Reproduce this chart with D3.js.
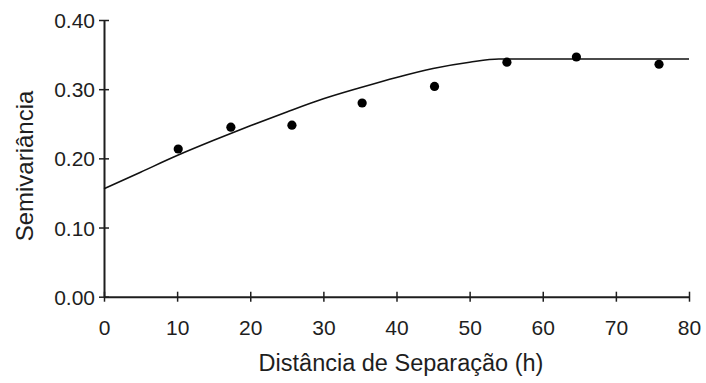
<!DOCTYPE html>
<html>
<head>
<meta charset="utf-8">
<script src="https://cdn.jsdelivr.net/npm/d3@7"></script>
<style>
  html, body { margin: 0; padding: 0; background: #fff; }
  svg { display: block; }
  text { font-family: "Liberation Sans", Arial, sans-serif; fill: #1e1e1e; }
</style>
</head>
<body>
<svg id="chart" width="706" height="383"></svg>
<script>
// Experimental semivariance by lag distance
const lagDistance = [10.15, 17.35, 25.7, 35.3, 45.2, 55.1, 64.6, 75.9];
const semivariance = [0.2135, 0.245, 0.248, 0.280, 0.304, 0.339, 0.3465, 0.336];

// Fitted model curve (distance, semivariance)
const modelDistance = [0, 5, 10, 15, 20, 25, 30, 35, 40, 45, 50, 54, 60, 70, 80];
const modelValue = [0.156, 0.180, 0.204, 0.226, 0.247, 0.267, 0.286, 0.302, 0.317, 0.330, 0.339, 0.3436, 0.3436, 0.3436, 0.3436];

const xTicks = [0, 10, 20, 30, 40, 50, 60, 70, 80];
const yTicks = [0.00, 0.10, 0.20, 0.30, 0.40];

const xTitle = "Distância de Separação (h)";
const yTitle = "Semivariância";

const svg = d3.select("#chart");
const x = d3.scaleLinear().domain([0, 80]).range([104, 689]);
const y = d3.scaleLinear().domain([0, 0.4]).range([296.7, 20]);

const ink = "#1e1e1e";

// x axis
const gx = svg.append("g")
  .attr("transform", `translate(0,${y(0)})`)
  .call(d3.axisBottom(x).tickValues(xTicks).tickFormat(d3.format("d")).tickSizeOuter(0));
gx.select(".domain").attr("stroke", ink).attr("stroke-width", 2);
gx.selectAll(".tick line").attr("stroke", ink).attr("stroke-width", 1.5).attr("y1", -5).attr("y2", 5);
gx.selectAll(".tick text").attr("y", 0).attr("dy", 0)
  .attr("transform", "translate(0,38)")
  .style("font-size", "21px").attr("fill", ink);

// y axis
const gy = svg.append("g")
  .attr("transform", `translate(${x(0)},0)`)
  .call(d3.axisLeft(y).tickValues(yTicks).tickFormat(d3.format(".2f")).tickSizeOuter(0));
gy.select(".domain").attr("stroke", ink).attr("stroke-width", 2);
gy.selectAll(".tick line").attr("stroke", ink).attr("stroke-width", 1.5).attr("x1", -5).attr("x2", 5);
gy.selectAll(".tick text").attr("x", -9).attr("dy", "0.36em")
  .style("font-size", "21px").attr("fill", ink);

// model curve
const modelPoints = modelDistance.map((d, i) => [d, modelValue[i]]);
svg.append("path")
  .datum(modelPoints)
  .attr("fill", "none")
  .attr("stroke", "#111")
  .attr("stroke-width", 1.6)
  .attr("d", d3.line().x(d => x(d[0])).y(d => y(d[1])).curve(d3.curveMonotoneX));

// observed points
svg.append("g").selectAll("circle")
  .data(lagDistance.map((d, i) => [d, semivariance[i]]))
  .join("circle")
  .attr("cx", d => x(d[0]))
  .attr("cy", d => y(d[1]))
  .attr("r", 4.6)
  .attr("fill", "#000");

// axis titles
svg.append("text")
  .attr("x", 401).attr("y", 371)
  .attr("text-anchor", "middle")
  .style("font-size", "23.5px")
  .text(xTitle);

svg.append("text")
  .attr("transform", "translate(33,166) rotate(-90)")
  .attr("text-anchor", "middle")
  .style("font-size", "24px")
  .text(yTitle);
</script>
</body>
</html>
